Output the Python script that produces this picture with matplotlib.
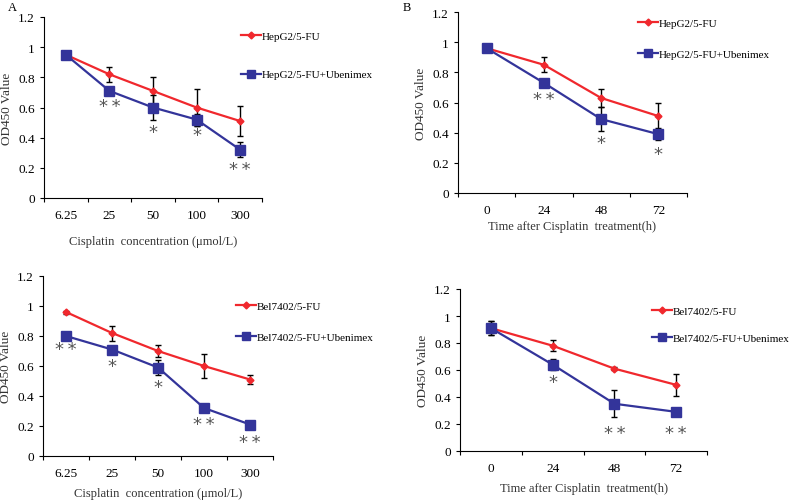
import matplotlib
matplotlib.use("Agg")
import matplotlib.pyplot as plt
from matplotlib.lines import Line2D
import numpy as np

plt.rcParams['font.family'] = ['Liberation Serif', 'DejaVu Serif']

# concentration panels (left)
conc = ['6.25', '25', '50', '100', '300']
hep_conc = [0.95, 0.82, 0.71, 0.60, 0.51]
hep_conc_err = [0.0, 0.05, 0.09, 0.12, 0.10]
hep_ub_conc = [0.95, 0.71, 0.60, 0.52, 0.32]
hep_ub_conc_err = [0.0, 0.0, 0.08, 0.04, 0.05]
hep_conc_stars = ['', '**', '*', '*', '**']
hep_conc_star_y = [0, 0.61, 0.44, 0.42, 0.19]

bel_conc = [0.96, 0.82, 0.70, 0.60, 0.51]
bel_conc_err = [0.01, 0.05, 0.04, 0.08, 0.03]
bel_ub_conc = [0.80, 0.71, 0.59, 0.32, 0.21]
bel_ub_conc_err = [0.02, 0.02, 0.05, 0.01, 0.02]
bel_conc_stars = ['**', '*', '*', '**', '**']
bel_conc_star_y = [0.71, 0.60, 0.46, 0.21, 0.09]

# time panels (right)
hours = ['0', '24', '48', '72']
hep_time = [0.96, 0.85, 0.63, 0.51]
hep_time_err = [0.0, 0.05, 0.06, 0.09]
hep_ub_time = [0.96, 0.73, 0.49, 0.39]
hep_ub_time_err = [0.0, 0.0, 0.08, 0.04]
hep_time_stars = ['', '**', '*', '*']
hep_time_star_y = [0, 0.62, 0.33, 0.26]

bel_time = [0.91, 0.78, 0.61, 0.49]
bel_time_err = [0.05, 0.04, 0.01, 0.08]
bel_ub_time = [0.91, 0.64, 0.35, 0.29]
bel_ub_time_err = [0.05, 0.04, 0.10, 0.01]
bel_time_stars = ['', '*', '**', '**']
bel_time_star_y = [0, 0.51, 0.13, 0.13]

RED = '#f0282d'
BLUE = '#33349a'
W, H = 790, 502

fig = plt.figure(figsize=(7.9, 5.02), dpi=100)


def px_axes(x0, y0, x1, y1):
    return fig.add_axes([x0 / W, 1 - y1 / H, (x1 - x0) / W, (y1 - y0) / H])


def panel(rect, cats, red, red_err, blue, blue_err, stars, star_y,
          lab_red, lab_blue, xlabel, leg_xy, leg_space, xlab_pad):
    ax = px_axes(*rect)
    x = np.arange(len(cats))
    ax.errorbar(x, red, yerr=red_err, color=RED, marker='D', ms=3.5, lw=1.6,
                ecolor='black', elinewidth=1, capsize=2.5, zorder=2)
    ax.errorbar(x, blue, yerr=blue_err, color=BLUE, marker='s', ms=7, lw=1.6,
                ecolor='black', elinewidth=1, capsize=2.5, zorder=3)
    for xi, s, sy in zip(x, stars, star_y):
        if s:
            ax.text(xi, sy, '\u2009'.join(s), ha='center', va='center', fontsize=13,
                    color='#555555', family='DejaVu Sans')
    ax.set_xlim(-0.5, len(cats) - 0.5)
    ax.set_ylim(0, 1.2)
    ax.set_yticks(np.arange(0, 1.21, 0.2))
    ax.set_yticklabels(['0', '0.2', '0.4', '0.6', '0.8', '1', '1.2'])
    ax.set_xticks(np.arange(-0.5, len(cats), 1))
    ax.set_xticklabels([])
    ax.set_xticks(x, minor=True)
    ax.set_xticklabels(cats, minor=True)
    ax.tick_params(axis='x', which='minor', length=0, pad=8, labelsize=9.5)
    ax.tick_params(axis='x', which='major', length=3, direction='out')
    ax.tick_params(axis='y', length=3, direction='out', labelsize=9.5)
    for s in ['top', 'right']:
        ax.spines[s].set_visible(False)
    ax.set_ylabel('OD450 Value', fontsize=9.5, color='#333333')
    ax.set_xlabel(xlabel, fontsize=9, color='#333333', labelpad=xlab_pad)
    handles = [Line2D([], [], color=RED, marker='D', ms=3.5, lw=1.6),
               Line2D([], [], color=BLUE, marker='s', ms=6, lw=1.6)]
    ax.legend(handles, [lab_red, lab_blue], loc='upper left',
              bbox_to_anchor=(leg_xy[0] / W, 1 - leg_xy[1] / H),
              bbox_transform=fig.transFigure, frameon=False, fontsize=8,
              labelspacing=leg_space, handlelength=1.8, handletextpad=0.1,
              borderpad=0, borderaxespad=0)
    return ax


panel((44, 18, 262, 199), conc, hep_conc, hep_conc_err, hep_ub_conc, hep_ub_conc_err,
      hep_conc_stars, hep_conc_star_y, 'HepG2/5-FU', 'HepG2/5-FU+Ubenimex',
      'Cisplatin  concentration (\u03bcmol/L)', (241, 32), 2.6, 10)
panel((458, 13, 687, 194), hours, hep_time, hep_time_err, hep_ub_time, hep_ub_time_err,
      hep_time_stars, hep_time_star_y, 'HepG2/5-FU', 'HepG2/5-FU+Ubenimex',
      'Time after Cisplatin  treatment(h)', (638, 19), 1.9, 3)
panel((43, 277, 273, 457), conc, bel_conc, bel_conc_err, bel_ub_conc, bel_ub_conc_err,
      bel_conc_stars, bel_conc_star_y, 'Bel7402/5-FU', 'Bel7402/5-FU+Ubenimex',
      'Cisplatin  concentration (\u03bcmol/L)', (236, 302), 1.9, 6)
panel((460, 290, 707, 452), hours, bel_time, bel_time_err, bel_ub_time, bel_ub_time_err,
      bel_time_stars, bel_time_star_y, 'Bel7402/5-FU', 'Bel7402/5-FU+Ubenimex',
      'Time after Cisplatin  treatment(h)', (652, 307), 1.6, 6)

fig.text(8 / W, 1 - 8 / H, 'A', fontsize=9, va='center')
fig.text(403 / W, 1 - 8 / H, 'B', fontsize=9, va='center')

fig.savefig('out.png', dpi=100)
